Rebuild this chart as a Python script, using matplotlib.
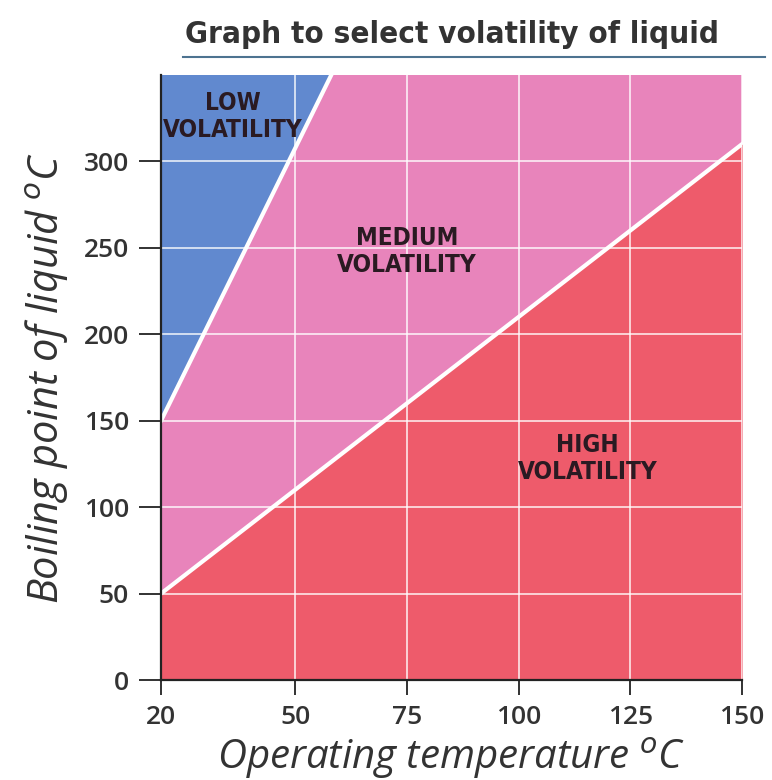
import matplotlib.pyplot as plt
from matplotlib.lines import Line2D

# boundary lines between the zones (operating temp -> boiling point)
high_x = [20, 150]
high_y = [50, 310]
low_x = [20, 60]
low_y = [150, 360]

x_ticks = [20, 50, 75, 100, 125, 150]
y_ticks = [0, 50, 100, 150, 200, 250, 300]

zone_labels = ["LOW\nVOLATILITY", "MEDIUM\nVOLATILITY", "HIGH\nVOLATILITY"]
zone_pos = [(36, 326), (75, 248), (115.5, 128)]

blue = "#6189cf"
pink = "#e884bb"
red = "#ee5b6b"

fig = plt.figure(figsize=(7.72, 7.80), dpi=100)
ax = fig.add_axes([161 / 772, 1 - 680 / 780, 581 / 772, 605 / 780])

ymax = 350
ax.fill_between([20, 150], 0, ymax, color=pink, lw=0, zorder=1)
ax.fill_between(low_x, low_y, ymax + 50, color=blue, lw=0, zorder=1)
ax.fill_between(high_x, 0, high_y, color=red, lw=0, zorder=1)
ax.plot(low_x, low_y, color="white", lw=3, zorder=2)
ax.plot(high_x, high_y, color="white", lw=3, zorder=2)

ax.set_xlim(20, 150)
ax.set_ylim(0, ymax)
ax.set_xticks(x_ticks)
ax.set_yticks(y_ticks)
ax.set_axisbelow(False)
ax.grid(True, color="white", lw=1.2, alpha=0.85)

for s in ["top", "right"]:
    ax.spines[s].set_visible(False)
for s in ["left", "bottom"]:
    ax.spines[s].set_color("#222222")
    ax.spines[s].set_linewidth(1.6)
    ax.spines[s].set_zorder(4)

ax.tick_params(axis="y", length=16, width=1.3, pad=7, colors="#222222", labelsize=19)
ax.tick_params(axis="x", length=11, width=1.3, pad=7, colors="#222222", labelsize=19)
for lab in ax.get_xticklabels() + ax.get_yticklabels():
    lab.set_family("Open Sans")
    lab.set_fontweight("semibold")
    lab.set_color("#333333")

for txt, (x, y) in zip(zone_labels, zone_pos):
    ax.text(x, y, txt, ha="center", va="center", fontsize=17.5, fontweight="bold",
            family="DejaVu Sans", fontstretch="condensed", color="#2a1a22",
            linespacing=1.15, zorder=5)

ax.set_xlabel(r"Operating temperature $^{o}$C", fontsize=29, style="italic",
              family="Open Sans", color="#333333", labelpad=4)
ax.set_ylabel(r"Boiling point of liquid $^{o}$C", fontsize=30, style="italic",
              family="Open Sans", color="#333333", labelpad=10)

fig.text(185 / 772, 1 - 43 / 780, "Graph to select volatility of liquid", fontsize=22.5,
         fontweight="bold", family="DejaVu Sans", fontstretch="condensed", color="#333333")
fig.add_artist(Line2D([183 / 772, 765 / 772], [1 - 57 / 780, 1 - 57 / 780],
                      color="#4d7390", lw=1.5))

fig.savefig("out.png", dpi=100)
